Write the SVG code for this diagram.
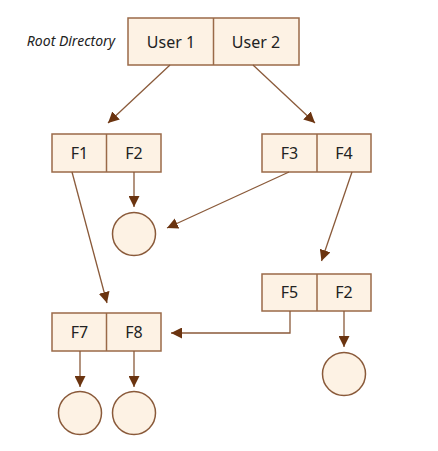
<svg xmlns="http://www.w3.org/2000/svg" width="438" height="451" viewBox="0 0 438 451">
<defs>
<style>
.box{fill:#fdf2e4;stroke:#9a6a48;stroke-width:1.5}
.div{stroke:#9a6a48;stroke-width:1.5}
.lbl{font-family:"Noto Sans","Open Sans",sans-serif;font-size:16px;fill:#222;text-anchor:middle}
.root{font-family:"Noto Sans","Open Sans",sans-serif;font-size:14px;font-style:italic;fill:#222;text-anchor:middle}
.edge{fill:none;stroke:#8a5a3a;stroke-width:1.3}
.circ{fill:#fdf2e4;stroke:#8a5a3a;stroke-width:1.5}
</style>
<marker id="ah" viewBox="0 0 10 10" refX="10" refY="5" markerWidth="11" markerHeight="11" markerUnits="userSpaceOnUse" orient="auto">
<path d="M0,0 L10,5 L0,10 z" fill="#6b3410"/>
</marker>
</defs>
<text class="root" x="71" y="46">Root Directory</text>
<g id="root">
<rect class="box" x="128" y="18" width="171" height="47"/>
<line class="div" x1="213.5" y1="18" x2="213.5" y2="65"/>
<text class="lbl" x="171" y="48">User 1</text>
<text class="lbl" x="256" y="48">User 2</text>
</g>
<g id="f1f2">
<rect class="box" x="52" y="134" width="109" height="38"/>
<line class="div" x1="106.5" y1="134" x2="106.5" y2="172"/>
<text class="lbl" x="79.5" y="159">F1</text>
<text class="lbl" x="134" y="159">F2</text>
</g>
<g id="f3f4">
<rect class="box" x="262" y="134" width="109" height="38"/>
<line class="div" x1="317" y1="134" x2="317" y2="172"/>
<text class="lbl" x="289.5" y="159">F3</text>
<text class="lbl" x="344" y="159">F4</text>
</g>
<g id="f5f2">
<rect class="box" x="262" y="274" width="109" height="37"/>
<line class="div" x1="317" y1="274" x2="317" y2="311"/>
<text class="lbl" x="289.5" y="298">F5</text>
<text class="lbl" x="344" y="298">F2</text>
</g>
<g id="f7f8">
<rect class="box" x="52" y="313" width="109" height="38"/>
<line class="div" x1="106.5" y1="313" x2="106.5" y2="351"/>
<text class="lbl" x="79.5" y="338">F7</text>
<text class="lbl" x="134" y="338">F8</text>
</g>
<g id="c1"><circle class="circ" cx="134" cy="234" r="21.5"/></g>
<g id="c2"><circle class="circ" cx="344" cy="374" r="21.5"/></g>
<g id="c3"><circle class="circ" cx="80" cy="413" r="21.5"/></g>
<g id="c4"><circle class="circ" cx="134" cy="413" r="21.5"/></g>
<g id="connectors">
<line class="edge" x1="170" y1="65" x2="108" y2="123" marker-end="url(#ah)"/>
<line class="edge" x1="253" y1="65" x2="315" y2="123" marker-end="url(#ah)"/>
<line class="edge" x1="134" y1="172" x2="134" y2="207" marker-end="url(#ah)"/>
<line class="edge" x1="289" y1="172" x2="167" y2="228" marker-end="url(#ah)"/>
<line class="edge" x1="352" y1="172" x2="321.5" y2="261" marker-end="url(#ah)"/>
<line class="edge" x1="72" y1="172" x2="107" y2="303" marker-end="url(#ah)"/>
<line class="edge" x1="344" y1="311" x2="344" y2="347" marker-end="url(#ah)"/>
<polyline class="edge" points="290,311 290,333 171,333" marker-end="url(#ah)"/>
<line class="edge" x1="80" y1="351" x2="80" y2="387" marker-end="url(#ah)"/>
<line class="edge" x1="134" y1="351" x2="134" y2="387" marker-end="url(#ah)"/>
</g>
</svg>
